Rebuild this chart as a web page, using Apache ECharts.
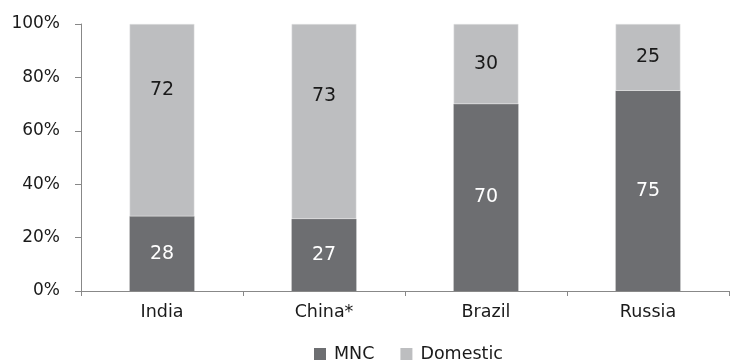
<!DOCTYPE html>
<html>
<head>
<meta charset="utf-8">
<script src="https://cdn.jsdelivr.net/npm/echarts@6/dist/echarts.min.js"></script>
<style>
  html, body { margin: 0; padding: 0; background: #fff; }
  #chart { width: 732px; height: 363px; }
</style>
</head>
<body>
<div id="chart"></div>
<script>
// Market share by ownership type (percent)
const categories = ['India', 'China*', 'Brazil', 'Russia'];
const mncShare = [28, 27, 70, 75];
const domesticShare = [72, 73, 30, 25];
const yTicks = [0, 20, 40, 60, 80, 100];

const FONT = 'DejaVu Sans';
const chart = echarts.init(document.getElementById('chart'));

// Domestic labels in the two tall segments sit above the segment middle
const domesticLabelLift = [-30, -25, 0, 0];

chart.setOption({
  animation: false,
  textStyle: { fontFamily: FONT },
  grid: { left: 81, right: 3, top: 24, bottom: 72 },
  legend: {
    top: 340,
    left: 309,
    itemWidth: 12,
    itemHeight: 12,
    itemGap: 26,
    icon: 'rect',
    itemStyle: { borderWidth: 0 },
    textStyle: { fontSize: 17.5, color: '#1a1a1a', fontFamily: FONT, padding: [0, 0, 0, 3] },
    data: ['MNC', 'Domestic']
  },
  xAxis: {
    type: 'category',
    data: categories,
    axisLine: { lineStyle: { color: '#888', width: 1 } },
    axisTick: { show: true, length: 5, lineStyle: { color: '#888' } },
    axisLabel: { fontSize: 17.5, color: '#1a1a1a', margin: 12, fontFamily: FONT }
  },
  yAxis: {
    type: 'value',
    min: yTicks[0],
    max: yTicks[yTicks.length - 1],
    interval: 20,
    axisLine: { show: true, lineStyle: { color: '#888', width: 1 } },
    axisTick: { show: true, length: 6, lineStyle: { color: '#888' } },
    splitLine: { show: false },
    axisLabel: {
      fontSize: 17, color: '#1a1a1a', margin: 21, fontFamily: FONT,
      formatter: v => v + '%'
    }
  },
  series: [
    {
      name: 'MNC',
      type: 'bar',
      stack: 'share',
      barWidth: '40%',
      itemStyle: { color: '#6d6e71' },
      label: { show: true, position: 'inside', color: '#fff', fontSize: 19, fontFamily: FONT },
      data: mncShare
    },
    {
      name: 'Domestic',
      type: 'bar',
      stack: 'share',
      barWidth: '40%',
      itemStyle: { color: '#bdbec0', borderColor: '#e4e4e5', borderWidth: 0.5 },
      label: { show: true, position: 'inside', color: '#1a1a1a', fontSize: 19, fontFamily: FONT },
      data: domesticShare.map((v, i) => ({
        value: v,
        label: { offset: [0, domesticLabelLift[i]] }
      }))
    }
  ]
});
</script>
</body>
</html>
